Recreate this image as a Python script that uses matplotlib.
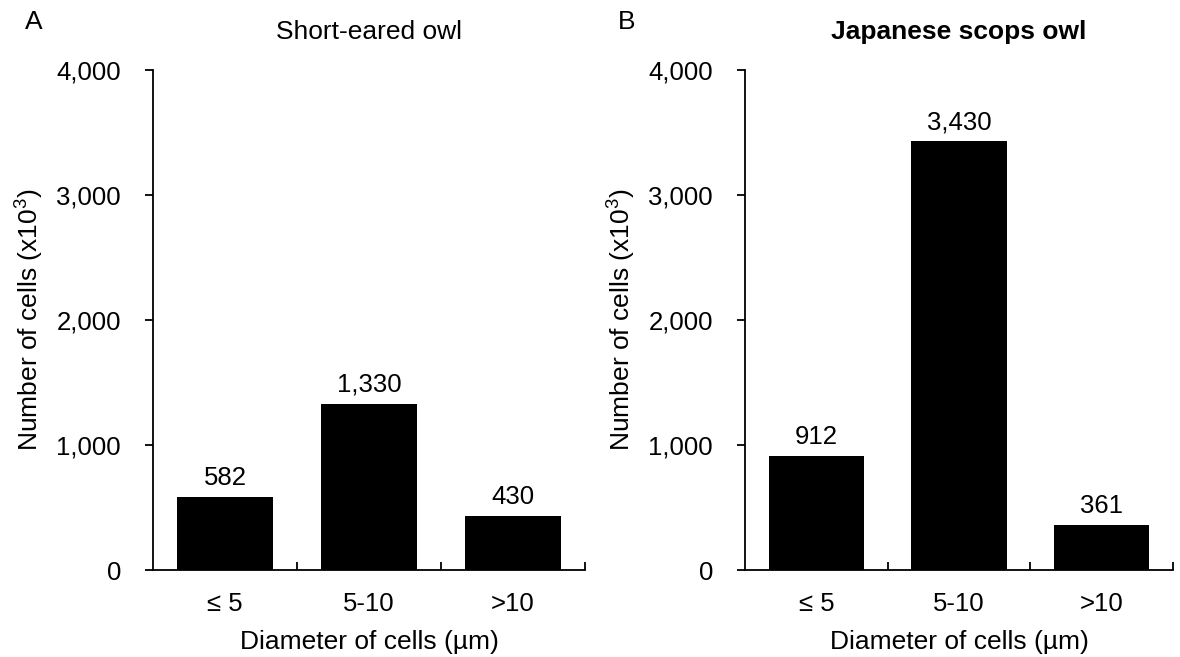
import matplotlib
matplotlib.use("Agg")
import matplotlib.pyplot as plt
from matplotlib.ticker import FuncFormatter, FixedLocator

plt.rcParams['font.family'] = ['Liberation Sans', 'DejaVu Sans']
plt.rcParams['mathtext.fontset'] = 'custom'
plt.rcParams['mathtext.rm'] = 'Liberation Sans'

categories = ["≤ 5", "5-10", ">10"]
short_eared = [582, 1330, 430]
scops = [912, 3430, 361]
titles = ["Short-eared owl", "Japanese scops owl"]
panel_letters = ["A", "B"]
yticks = [0, 1000, 2000, 3000, 4000]

fig = plt.figure(figsize=(11.8, 6.57), dpi=100)
ax1 = fig.add_axes([153/1180, 1-570/657, 432/1180, 500/657])
ax2 = fig.add_axes([745/1180, 1-570/657, 428/1180, 500/657])

for ax, vals, title, bold in [(ax1, short_eared, titles[0], False),
                              (ax2, scops, titles[1], True)]:
    x = list(range(len(categories)))
    ax.bar(x, vals, width=0.67, color='black')
    for xi, v in zip(x, vals):
        ax.annotate(f"{v:,}", (xi, v), xytext=(0, 5), textcoords='offset points',
                    ha='center', va='bottom', fontsize=18.5)
    ax.set_xlim(-0.5, 2.5)
    ax.set_ylim(0, 4000)
    ax.set_yticks(yticks)
    ax.yaxis.set_major_formatter(FuncFormatter(lambda v, p: f"{int(v):,}"))
    ax.set_xticks(x)
    ax.set_xticklabels(categories)
    ax.xaxis.set_minor_locator(FixedLocator([0.5, 1.5, 2.5]))
    ax.tick_params(axis='x', which='major', length=0, pad=16, labelsize=18.5)
    ax.tick_params(axis='x', which='minor', direction='in', length=6, width=1.3)
    ax.tick_params(axis='y', which='major', direction='out', length=6, width=1.3, pad=17, labelsize=18.5)
    for s in ['top', 'right']:
        ax.spines[s].set_visible(False)
    for s in ['left', 'bottom']:
        ax.spines[s].set_linewidth(1.3)
    ax.set_xlabel("Diameter of cells (µm)", fontsize=19, labelpad=10)
    ax.set_ylabel("Number of cells (x10$^{3}$)", fontsize=19, labelpad=8)
    ax.set_title(title, fontsize=19, fontweight='bold' if bold else 'normal', pad=22)

fig.text(25/1180, 1-22/657, panel_letters[0], fontsize=19, ha='left', va='center')
fig.text(618/1180, 1-22/657, panel_letters[1], fontsize=19, ha='left', va='center')

fig.savefig("out.png", dpi=100)
